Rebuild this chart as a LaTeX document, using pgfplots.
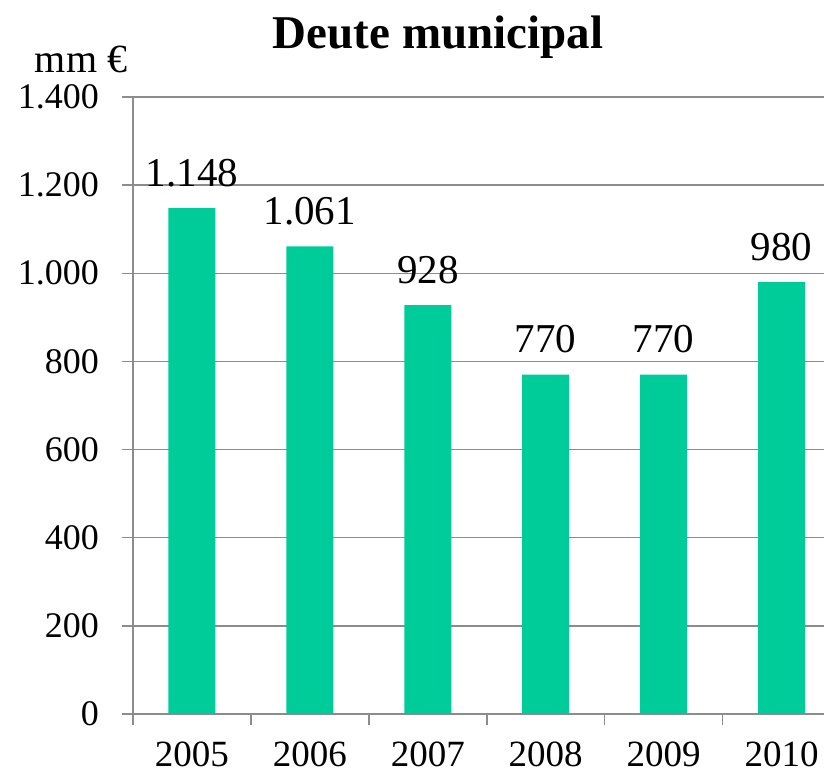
\documentclass[border=0pt]{standalone}
\usepackage{pgfplots}
\pgfplotsset{compat=1.18}
\usepackage{fontspec}
\setmainfont{Liberation Serif}
\definecolor{barg}{HTML}{00CC99}
\definecolor{gridg}{HTML}{8C8C8C}
\begin{document}
\begin{tikzpicture}
\begin{axis}[
  name=ax,
  at={(0,0)}, anchor=south west,
  scale only axis,
  width=345.5pt, height=308.5pt,
  ymin=0, ymax=1400,
  xmin=-0.5, xmax=5.36,
  ytick={0,200,...,1400},
  xtick={0,...,5},
  xticklabels={2005,2006,2007,2008,2009,2010},
  minor xtick={-0.5,0.5,...,4.5},
  axis x line*=bottom, axis y line*=left,
  axis line style={gridg, line width=0.75pt, -},
  ymajorgrids=true,
  major grid style={gridg, line width=0.75pt},
  tick align=outside,
  major tick length=5.5pt,
  minor tick length=5.5pt,
  xtick style={draw=none},
  minor x tick style={gridg, line width=0.75pt, draw=gridg},
  ytick style={gridg, line width=0.75pt},
  scaled y ticks=false,
  /pgf/number format/assume math mode=true,
  /pgf/number format/1000 sep={.},
  yticklabel style={font=\fontsize{18}{18}\selectfont, anchor=east, xshift=-8pt},
  xticklabel style={font=\fontsize{18.5}{18.5}\selectfont, yshift=-5pt},
  ybar,
  bar width=23.5pt,
  nodes near coords,
  nodes near coords style={font=\fontsize{20.5}{20.5}\selectfont, anchor=base, yshift=11pt},
  title={\textbf{Deute municipal}},
  title style={font=\fontsize{23.5}{23.5}\selectfont, at={(152.5pt,326.5pt)}, anchor=base},
  clip=false,
]
\addplot[fill=barg, draw=none] coordinates {
  (0,1148) (1,1061) (2,928) (3,770) (4,770) (5,980)
};
\end{axis}
\node[anchor=base, font=\fontsize{20}{20}\selectfont] at (-26pt,320.5pt) {mm €};
\pgfresetboundingbox
\path ([shift={(-66.5pt,-29pt)}]ax.south west) rectangle ([shift={(0pt,357pt)}]ax.south east);
\end{tikzpicture}
\end{document}
